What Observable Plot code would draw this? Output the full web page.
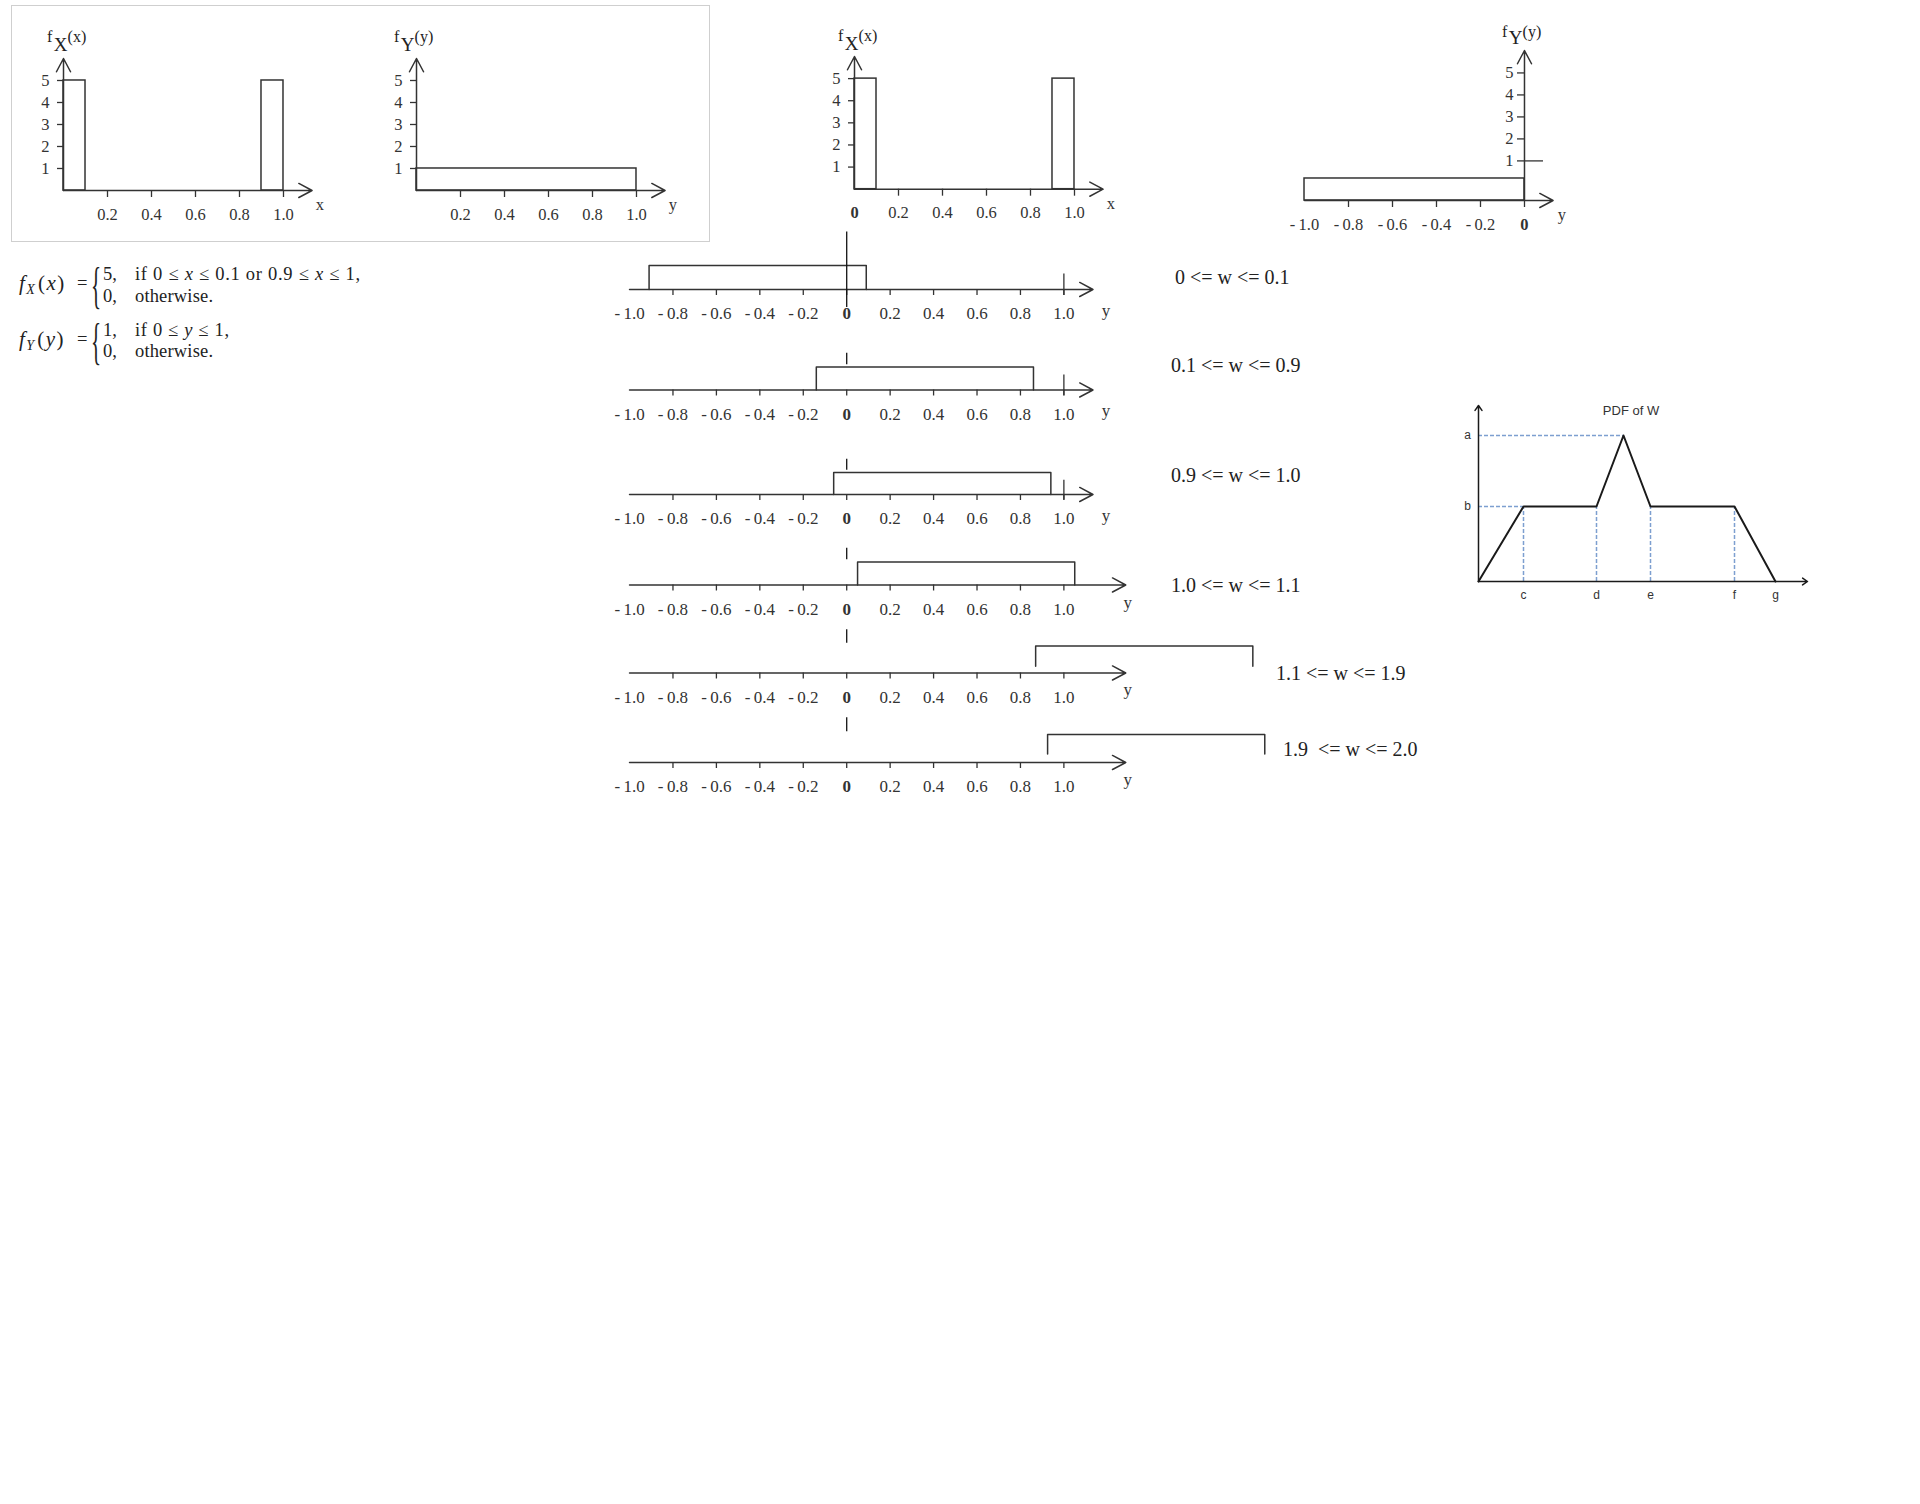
<!DOCTYPE html>
<html><head><meta charset="utf-8">
<script src="https://cdn.jsdelivr.net/npm/d3@7"></script>
<script src="https://cdn.jsdelivr.net/npm/@observablehq/plot@0.6"></script>
<style>
html,body{margin:0;padding:0;background:#fff;}
#page{position:relative;width:1920px;height:1504px;overflow:hidden;background:#fff;}
.p{position:absolute;}
.p svg{background:transparent;max-width:none;overflow:visible;display:block;}
#box{position:absolute;left:11px;top:5px;width:697px;height:235px;border:1px solid #cfcfcf;}
#ann{position:absolute;left:0;top:0;pointer-events:none;}
</style></head>
<body><div id="page"><div id="box"></div></div>
<script>
// ---------------- data ----------------
const fxStart = [0, 0.9];
const fxEnd = [0.1, 1.0];
const fxDensity = [5, 5];
const fyStart = [0];
const fyEnd = [1.0];
const fyDensity = [1];
const fyFlipStart = [-1.0];
const fyFlipEnd = [0];
const fyFlipDensity = [1];
const densityTicks = [1, 2, 3, 4, 5];
const unitTicks = [0.2, 0.4, 0.6, 0.8, 1.0];
const flipTickMarks = [-0.8, -0.6, -0.4, -0.2, 0];
const flipTickLabels = [-1.0, -0.8, -0.6, -0.4, -0.2];
const stripTickMarks = [-0.8, -0.6, -0.4, -0.2, 0, 0.2, 0.4, 0.6, 0.8, 1.0];
const stripTickLabels = [-1.0, -0.8, -0.6, -0.4, -0.2, 0.2, 0.4, 0.6, 0.8, 1.0];
const wRanges = ["0 <= w <= 0.1", "0.1 <= w <= 0.9", "0.9 <= w <= 1.0", "1.0 <= w <= 1.1", "1.1 <= w <= 1.9", "1.9  <= w <= 2.0"];
const wSample = [0.09, 0.86, 0.94, 1.05, 1.87, 1.925];
const pdfX = [0, 0.45, 1.18, 1.45, 1.72, 2.56, 2.97];
const pdfY = [0, 0.75, 0.75, 1.46, 0.75, 0.75, 0];
const pdfLevelNames = ["a", "b"];
const pdfLevels = [1.46, 0.75];
const pdfLevelEnds = [1.45, 0.45];
const pdfPointNames = ["c", "d", "e", "f", "g"];
const pdfPointX = [0.45, 1.18, 1.72, 2.56, 2.97];
const pdfDropX = [0.45, 1.18, 1.72, 2.56];

// ---------------- layout ----------------
const INK = "#333";
const page = document.getElementById("page");
const ARROW = {x1: "x1", y1: "y1", x2: "x2", y2: "y2", stroke: INK, strokeWidth: 1.5, headLength: 15, headAngle: 56};
const SERIF = "Liberation Serif, Times New Roman, serif";
const SANS = "Liberation Sans, Arial, sans-serif";

function mk({px, py, xDomain, yDomain, marks, m = [40, 60, 50, 60], font = SERIF, size = "16.5px"}) {
  const [mt, mr, mb, ml] = m;
  const w = px[1] - px[0], h = py[0] - py[1];
  const svg = Plot.plot({
    width: w + ml + mr, height: h + mt + mb,
    marginTop: mt, marginRight: mr, marginBottom: mb, marginLeft: ml,
    x: {domain: xDomain, axis: null},
    y: {domain: yDomain, axis: null},
    style: {background: "transparent", overflow: "visible", fontFamily: font, fontSize: size, color: INK},
    marks
  });
  const div = document.createElement("div");
  div.className = "p";
  div.style.left = (px[0] - ml) + "px";
  div.style.top = (py[1] - mt) + "px";
  div.appendChild(svg);
  page.appendChild(div);
}

const fmt = d => d < 0 ? "-\u2009" + (-d).toFixed(1) : d.toFixed(1);

function densityPanel({px, py, xDomain, yDomain, starts, ends, dens, zero, name}) {
  const idx = d3.range(starts.length);
  mk({px, py, xDomain, yDomain, marks: [
    Plot.rect(idx, {x1: i => starts[i], x2: i => ends[i], y1: 0, y2: i => dens[i], fill: "none", stroke: INK, strokeWidth: 1.5}),
    Plot.arrow([{x1: 0, y1: 0, x2: xDomain[1], y2: 0}], ARROW),
    Plot.arrow([{x1: 0, y1: 0, x2: 0, y2: yDomain[1]}], ARROW),
    Plot.axisX({ticks: unitTicks, tickSize: 7, tickPadding: 10.5, tickFormat: fmt, label: null, strokeWidth: 1.3}),
    Plot.axisY({ticks: densityTicks, tickSize: 6, tickPadding: 8, tickFormat: d => String(d), label: null, strokeWidth: 1.3}),
    zero ? Plot.text([0], {x: d => d, frameAnchor: "bottom", lineAnchor: "top", dy: 17.5, text: () => "0", fontWeight: "bold"}) : null,
    Plot.text([name], {frameAnchor: "bottom-right", dx: 12, dy: 20, text: d => d})
  ]});
}

// Panel 1: f_X(x)
densityPanel({px: [63, 311.6], py: [190, 58], xDomain: [0, 1.13], yDomain: [0, 6],
  starts: fxStart, ends: fxEnd, dens: fxDensity, zero: false, name: "x"});
// Panel 2: f_Y(y)
densityPanel({px: [415.5, 664.1], py: [190, 58], xDomain: [0, 1.13], yDomain: [0, 6],
  starts: fyStart, ends: fyEnd, dens: fyDensity, zero: false, name: "y"});
// Panel 3: f_X(x) with 0 label
densityPanel({px: [854, 1102.6], py: [188.3, 55.6], xDomain: [0, 1.13], yDomain: [0, 6],
  starts: fxStart, ends: fxEnd, dens: fxDensity, zero: true, name: "x"});

// Panel 4: f_Y(-y)
{
  const yOff = 0.8;
  const idx = d3.range(fyFlipStart.length);
  mk({px: [1304, 1552.6], py: [200, 50], xDomain: [-1, 0.13], yDomain: [0, 6.82], marks: [
    Plot.rect(idx, {x1: i => fyFlipStart[i], x2: i => fyFlipEnd[i], y1: 0, y2: i => fyFlipDensity[i], fill: "none", stroke: INK, strokeWidth: 1.5}),
    Plot.arrow([{x1: -1, y1: 0, x2: 0.13, y2: 0}], ARROW),
    Plot.arrow([{x1: 0, y1: 0, x2: 0, y2: 6.82}], ARROW),
    Plot.axisX({ticks: flipTickMarks, tickSize: 7, tickFormat: () => "", label: null, strokeWidth: 1.3}),
    Plot.axisX({ticks: flipTickLabels, tickSize: 0, tickPadding: 17.7, tickFormat: fmt, label: null}),
    Plot.text([0], {x: d => d, frameAnchor: "bottom", lineAnchor: "top", dy: 17.7, text: () => "0", fontWeight: "bold"}),
    Plot.ruleY(densityTicks, {y: d => d + yOff, x1: 0, x2: 0, insetLeft: -7, stroke: INK, strokeWidth: 1.3}),
    Plot.ruleY([1], {y: d => d + yOff, x1: 0, x2: 0, insetRight: -19, stroke: INK, strokeWidth: 1.3}),
    Plot.text(densityTicks, {x: 0, y: d => d + yOff, text: d => String(d), textAnchor: "end", dx: -11}),
    Plot.text(["y"], {frameAnchor: "bottom-right", dx: 13, dy: 20, text: d => d})
  ]});
}

// Convolution strips
const stripAxisY = [289.3, 389.3, 494.3, 584.3, 672.3, 761.7];
const stripUnit = [24, 23, 22, 23, 27, 28];
const stripArrowEnd = [1.134, 1.134, 1.134, 1.285, 1.285, 1.285];
const stripYdx = [13, 13, 13, 2, 2, 2];
const stripYdy = [21, 21, 21, 18, 17, 17];
const stripSideGap = [0, 0, 0, 0, 0.25, 0.3];
wSample.forEach((w, i) => {
  const u = stripUnit[i];
  const h = fyDensity[0];
  const bracket = [
    {x: w - 1, y: stripSideGap[i]}, {x: w - 1, y: h},
    {x: w, y: h}, {x: w, y: stripSideGap[i]}
  ];
  mk({px: [628.6, 1280.2], py: [stripAxisY[i], stripAxisY[i] - 2.5 * u], xDomain: [-1, 2], yDomain: [0, 2.5],
    size: "17px", m: [30, 50, 45, 50], marks: [
    Plot.line(bracket, {x: "x", y: "y", stroke: INK, strokeWidth: 1.5}),
    Plot.arrow([{x1: -1, y1: 0, x2: stripArrowEnd[i], y2: 0}], ARROW),
    Plot.axisX({ticks: stripTickMarks, tickSize: 6, tickFormat: () => "", label: null, strokeWidth: 1.3}),
    Plot.axisX({ticks: stripTickLabels, tickSize: 0, tickPadding: 17.5, tickFormat: fmt, label: null}),
    Plot.text([0], {x: d => d, frameAnchor: "bottom", lineAnchor: "top", dy: 17.5, text: () => "0", fontWeight: "bold"}),
    i === 0
      ? Plot.ruleX([0], {y1: -0.75, y2: 2.4, stroke: "#111", strokeWidth: 1.3})
      : Plot.ruleX([0], {y1: 1.1, y2: 1.6, stroke: "#111", strokeWidth: 1.3}),
    i < 3 ? Plot.ruleX([1], {y1: -0.25, y2: 0.65, stroke: INK, strokeWidth: 1.3}) : null,
    Plot.text([stripArrowEnd[i]], {x: d => d, y: 0, dx: stripYdx[i], dy: stripYdy[i], text: () => "y"})
  ]});
});

// PDF of W
{
  const pts = pdfX.map((x, i) => ({x, y: pdfY[i]}));
  const BLUE = "#7d9fd0";
  mk({px: [1477.7, 1806.7], py: [581, 405], xDomain: [0, 3.29], yDomain: [0, 1.76],
    font: SANS, size: "12px", m: [20, 20, 30, 30], marks: [
    Plot.ruleY(pdfLevels, {y: d => d, x1: 0, x2: (d, i) => pdfLevelEnds[i], stroke: BLUE, strokeWidth: 1.5, strokeDasharray: "4,2"}),
    Plot.ruleX(pdfDropX, {x: d => d, y1: 0, y2: pdfLevels[1], stroke: BLUE, strokeWidth: 1.5, strokeDasharray: "4,2"}),
    Plot.line(pts, {x: "x", y: "y", stroke: "#1a1a1a", strokeWidth: 2}),
    Plot.arrow([{x1: 0, y1: 0, x2: 3.29, y2: 0}], {...ARROW, stroke: "#1a1a1a", headLength: 6, headAngle: 70}),
    Plot.arrow([{x1: 0, y1: 0, x2: 0, y2: 1.76}], {...ARROW, stroke: "#1a1a1a", headLength: 6, headAngle: 70}),
    Plot.text(pdfLevelNames, {x: 0, y: (d, i) => pdfLevels[i], dx: -11, text: d => d}),
    Plot.text(pdfPointNames, {x: (d, i) => pdfPointX[i], y: 0, dy: 14, text: d => d}),
    Plot.text(["PDF of W"], {frameAnchor: "top", dx: -12, text: d => d, fontSize: 13})
  ]});
}

// ---------------- text annotations ----------------
const ann = d3.select(page).append("svg").attr("id", "ann")
  .attr("width", 1920).attr("height", 900)
  .style("font-family", SERIF).style("fill", "#222");

function title(x, y, sub, arg, drop = 9) {
  const t = ann.append("text").attr("x", x).attr("y", y).attr("font-size", 16);
  t.append("tspan").text("f");
  t.append("tspan").attr("font-size", 19).attr("dx", 1.5).attr("dy", drop).text(sub);
  t.append("tspan").attr("font-size", 16).attr("dy", -drop).text("(" + arg + ")");
}
title(47, 42, "X", "x");
title(394, 42, "Y", "y");
title(838, 41, "X", "x");
title(1502, 36.5, "Y", "y", 7);

function formula(y0, sub, arg, lines, widths) {
  const t = ann.append("text").attr("x", 19).attr("y", y0 + 10).attr("font-size", 21);
  t.append("tspan").attr("font-style", "italic").text("f");
  t.append("tspan").attr("font-style", "italic").attr("font-size", 14).attr("dx", 1.5).attr("dy", 4).text(sub);
  t.append("tspan").attr("dx", 3).attr("dy", -4).text("(");
  t.append("tspan").attr("font-style", "italic").attr("dx", 1.5).text(arg);
  t.append("tspan").attr("dx", 1.5).text(")");
  ann.append("text").attr("x", 77).attr("y", y0 + 9).attr("font-size", 18.5).text("=");
  ann.append("text").attr("transform", `translate(91,${y0 + 22}) scale(0.42,1)`)
    .attr("font-size", 50).text("{");
  lines.forEach(([v, cond], k) => {
    const yy = y0 + k * 21.5;
    ann.append("text").attr("x", 103).attr("y", yy).attr("font-size", 18.5).text(v);
    const c = ann.append("text").attr("x", 135).attr("y", yy).attr("font-size", 18.5)
      .attr("textLength", widths[k]).attr("lengthAdjust", "spacing");
    cond.forEach(([s, it]) => c.append("tspan").attr("font-style", it ? "italic" : null).text(s));
  });
}
formula(280, "X", "x", [
  ["5,", [["if 0 \u2264 ", 0], ["x", 1], [" \u2264 0.1 or 0.9 \u2264 ", 0], ["x", 1], [" \u2264 1,", 0]]],
  ["0,", [["otherwise.", 0]]]
], [225, 78]);
formula(335.5, "Y", "y", [
  ["1,", [["if 0 \u2264 ", 0], ["y", 1], [" \u2264 1,", 0]]],
  ["0,", [["otherwise.", 0]]]
], [94, 78]);

const wLabelX = [1175, 1171, 1171, 1171, 1276, 1283];
const wLabelY = [284, 372, 482, 592, 680, 756];
wRanges.forEach((s, i) => {
  ann.append("text").attr("x", wLabelX[i]).attr("y", wLabelY[i]).attr("font-size", 20)
    .style("white-space", "pre").text(s);
});
</script>
</body></html>
